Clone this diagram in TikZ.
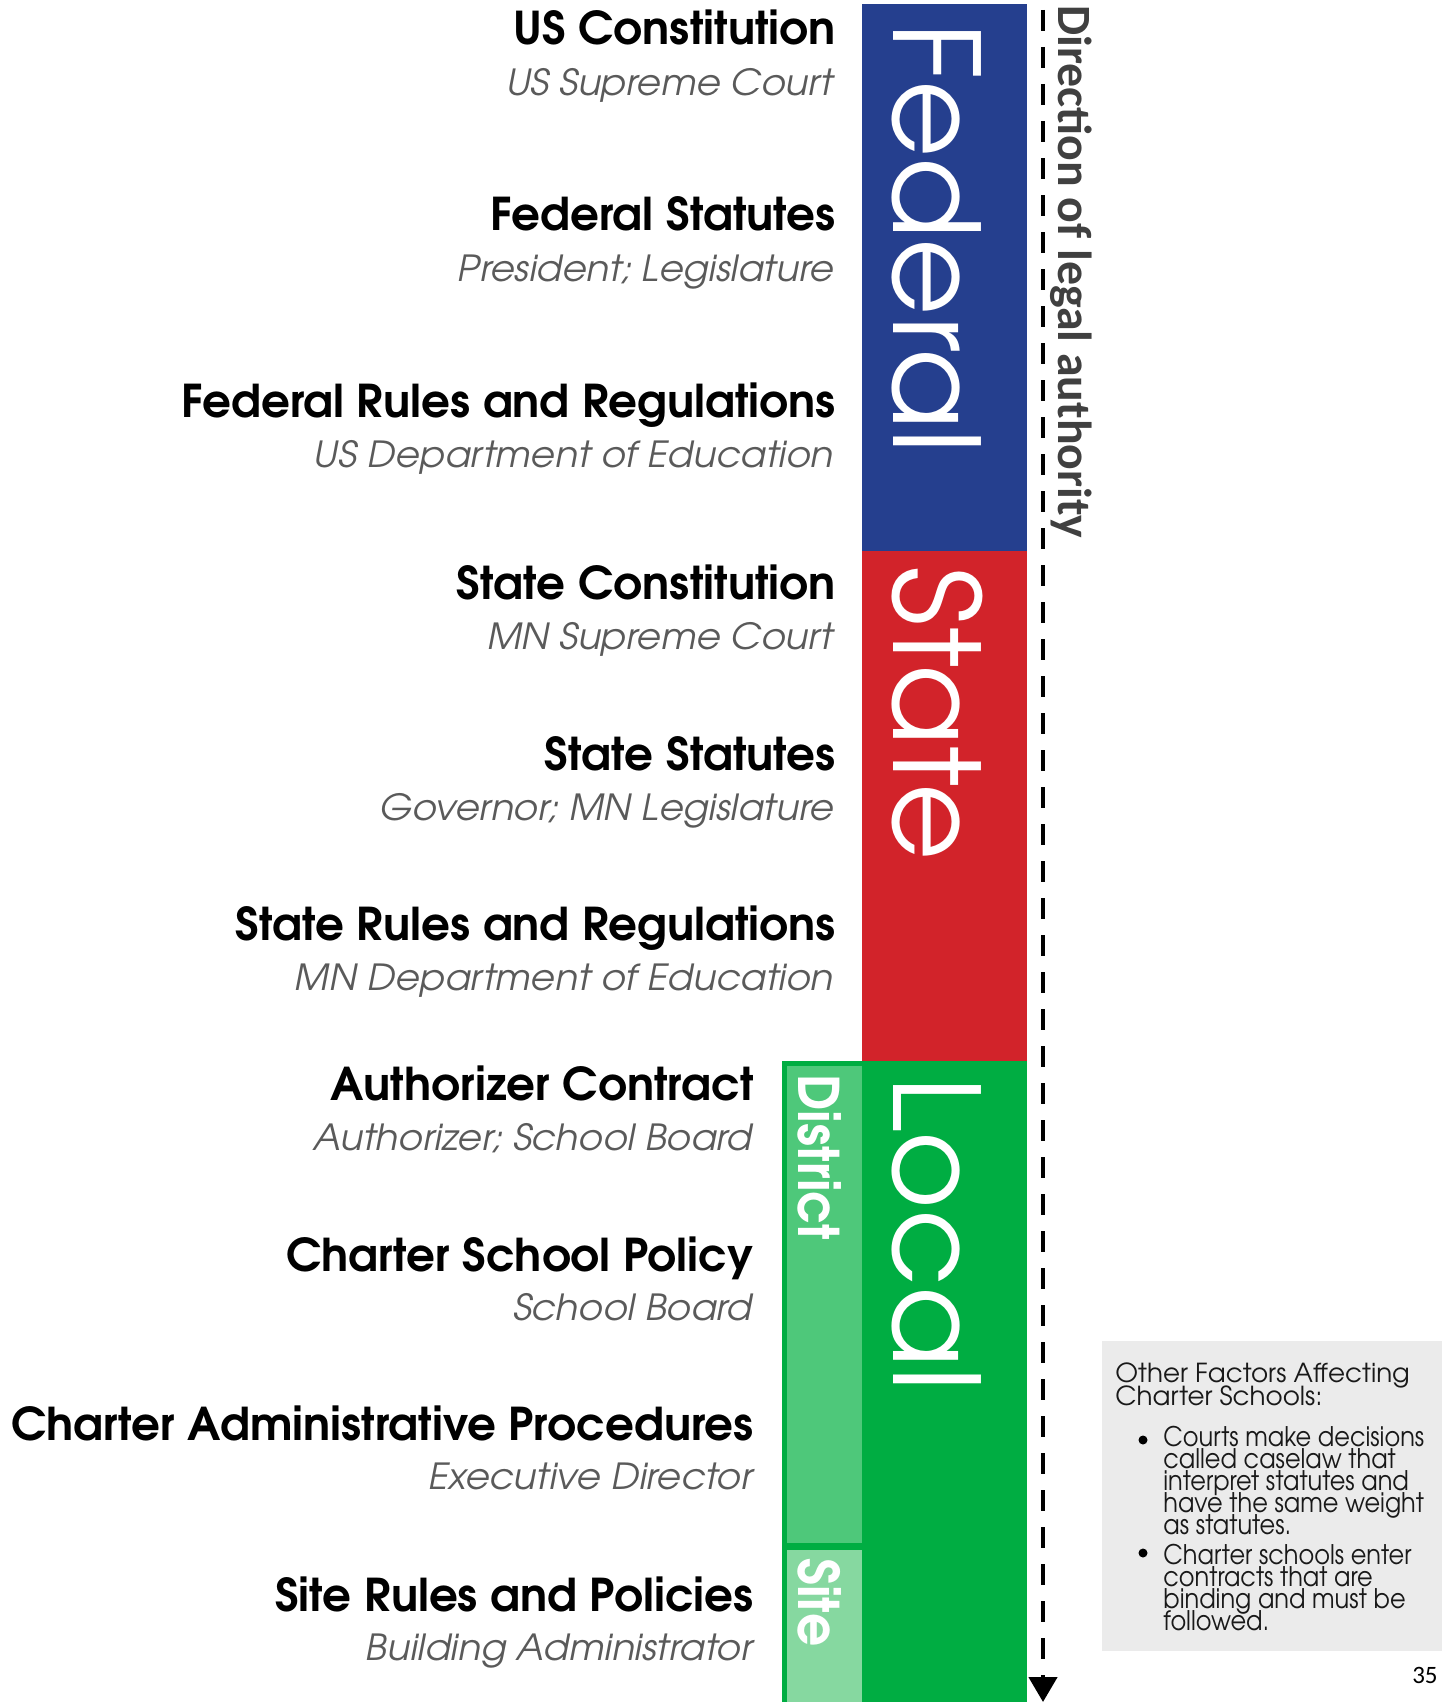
\documentclass[tikz,border=0pt]{standalone}
\usepackage{fontspec}
\usetikzlibrary{arrows.meta}
\newfontfamily\adv{texgyreadventor}[Extension=.otf, UprightFont=*-regular, BoldFont=*-bold, ItalicFont=*-italic, BoldItalicFont=*-bolditalic]
\newfontfamily\advsub{texgyreadventor}[Extension=.otf, UprightFont=*-italic, FakeStretch=1.04]
\newfontfamily\advband{texgyreadventor}[Extension=.otf, UprightFont=*-bold, FakeStretch=0.93]
\newfontfamily\advnar{texgyreadventor}[Extension=.otf, UprightFont=*-regular, FakeStretch=0.89]
\newfontfamily\carl{Carlito}
\newcommand\mytightls{\lineskiplimit-100pt\relax}
\definecolor{fedblue}{HTML}{253F8E}
\definecolor{statered}{HTML}{D2232A}
\definecolor{localgreen}{HTML}{00AD42}
\definecolor{distgreen}{HTML}{4EC87A}
\definecolor{sitegreen}{HTML}{86D8A0}
\definecolor{subgray}{HTML}{5A5A5A}
\definecolor{dirgray}{HTML}{404040}
\definecolor{boxgray}{HTML}{EBEBEB}
\tikzset{
  heading/.style={anchor=base east, inner sep=0pt, font=\adv\bfseries\fontsize{22.6pt}{24pt}\selectfont, text=black},
  subhead/.style={anchor=base east, inner sep=0pt, font=\advsub\fontsize{18pt}{20pt}\selectfont, text=subgray},
  bigword/.style={anchor=base west, inner sep=0pt, rotate=-90, font=\adv\fontsize{59.5pt}{60pt}\selectfont, text=white},
  bandword/.style={anchor=base west, inner sep=0pt, rotate=-90, font=\advband\fontsize{28pt}{30pt}\selectfont, text=white},
  boxtext/.style={anchor=base west, inner sep=0pt, align=left, text=black!90},
}
\begin{document}
\begin{tikzpicture}[x=0.5pt,y=-0.5pt]
\useasboundingbox (0,0) rectangle (1448,1702);
% bars
\fill[fedblue] (862,4) rectangle (1027,551);
\fill[statered] (862,551) rectangle (1027,1061);
\fill[localgreen] (782,1061) rectangle (1027,1702);
\fill[distgreen] (787,1066) rectangle (862,1543);
\fill[sitegreen] (787,1550) rectangle (862,1702);
\node[bigword] (fed) at (893,22) {Federal};
\node[bigword] (sta) at (893,566) {State};
\node[bigword] (loc) at (893,1076) {Local};
\node[bandword] (dis) at (798,1074) {District};
\node[bandword] (sit) at (798,1558) {Site};
% direction arrow
\coordinate (arrTop) at (1043,10);
\coordinate (arrBot) at (1043,1702);
\draw[line width=2.25pt, dash pattern=on 10.5pt off 8pt, -{Triangle[length=12.5pt,width=14pt]}] (arrTop) -- (arrBot);
\node[anchor=base west, inner sep=0pt, rotate=-90, font=\carl\bfseries\fontsize{23.9pt}{26pt}\selectfont, text=dirgray] (dir) at (1058,5) {Direction of legal authority};
% headings
\node[heading] (h1) at (836,45) {US Constitution};
\node[subhead] (s1) at (834,96) {US Supreme Court};
\node[heading] (h2) at (836,230) {Federal Statutes};
\node[subhead] (s2) at (834,281) {President; Legislature};
\node[heading] (h3) at (836,417) {Federal Rules and Regulations};
\node[subhead] (s3) at (834,467) {US Department of Education};
\node[heading] (h4) at (836,599) {State Constitution};
\node[subhead] (s4) at (834,649) {MN Supreme Court};
\node[heading] (h5) at (836,770) {State Statutes};
\node[subhead] (s5) at (834,820) {Governor; MN Legislature};
\node[heading] (h6) at (836,940) {State Rules and Regulations};
\node[subhead] (s6) at (834,990) {MN Department of Education};
\node[heading] (h7) at (754,1100) {Authorizer Contract};
\node[subhead] (s7) at (753,1150) {Authorizer; School Board};
\node[heading] (h8) at (754,1271) {Charter School Policy};
\node[subhead] (s8) at (753,1320) {School Board};
\node[heading] (h9) at (754,1440) {Charter Administrative Procedures};
\node[subhead] (s9) at (753,1489) {Executive Director};
\node[heading] (h10) at (754,1611) {Site Rules and Policies};
\node[subhead] (s10) at (753,1660) {Building Administrator};
% side box
\fill[boxgray] (1102,1341) rectangle (1442,1651);
\node[boxtext, font=\adv\fontsize{13.1pt}{11.5pt}\selectfont\mytightls] (bt) at (1115,1405) {Other Factors Affecting\\Charter Schools:};
\fill[black] (1143,1440) circle (4.5);
\fill[black] (1143,1553) circle (4.5);
\node[boxtext, font=\advnar\fontsize{13.5pt}{11pt}\selectfont\mytightls] (b1) at (1163,1534) {Courts make decisions\\called caselaw that\\interpret statutes and\\have the same weight\\as statutes.};
\node[boxtext, font=\advnar\fontsize{13.5pt}{11pt}\selectfont\mytightls] (b2) at (1163,1630) {Charter schools enter\\contracts that are\\binding and must be\\followed.};
\node[anchor=base east, inner sep=0pt, font=\carl\fontsize{12.5pt}{13pt}\selectfont] (pg) at (1438,1683) {35};
\end{tikzpicture}
\end{document}
